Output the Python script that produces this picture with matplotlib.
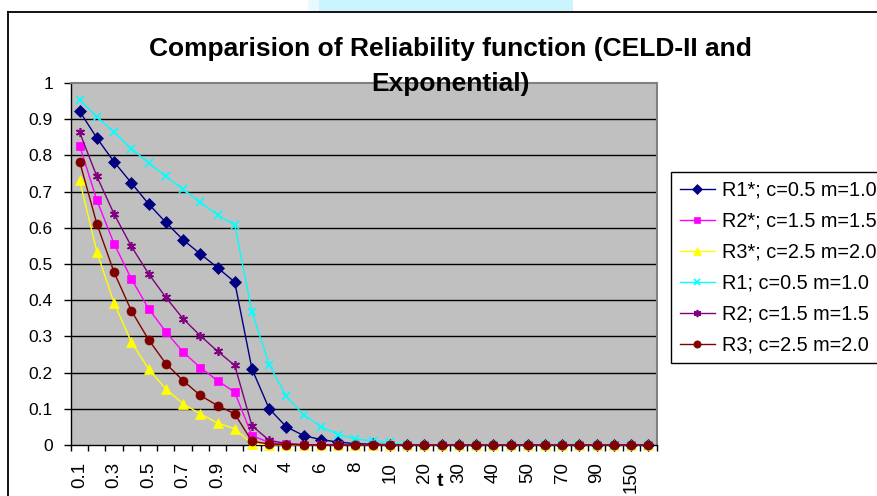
import numpy as np
import matplotlib.pyplot as plt
from matplotlib.lines import Line2D
from matplotlib.patches import Rectangle

# categorias del eje t
t_labels = ["0.1", "0.2", "0.3", "0.4", "0.5", "0.6", "0.7", "0.8", "0.9", "1",
            "2", "3", "4", "5", "6", "7", "8", "9", "10",
            "15", "20", "25", "30", "35", "40", "45", "50", "60", "70", "80", "90",
            "100", "150", "200"]

r1_star = [0.922, 0.848, 0.782, 0.724, 0.666, 0.615, 0.567, 0.528, 0.490, 0.450,
           0.210, 0.100, 0.050, 0.026, 0.015, 0.008, 0.004, 0.002, 0.001,
           0, 0, 0, 0, 0, 0, 0, 0, 0, 0, 0, 0, 0, 0, 0]
r2_star = [0.827, 0.676, 0.556, 0.459, 0.377, 0.313, 0.257, 0.214, 0.178, 0.146,
           0.026, 0.007, 0.002, 0.001, 0, 0, 0, 0, 0,
           0, 0, 0, 0, 0, 0, 0, 0, 0, 0, 0, 0, 0, 0, 0]
r3_star = [0.731, 0.534, 0.392, 0.285, 0.210, 0.155, 0.114, 0.086, 0.061, 0.045,
           0.003, 0.001, 0, 0, 0, 0, 0, 0, 0,
           0, 0, 0, 0, 0, 0, 0, 0, 0, 0, 0, 0, 0, 0, 0]
r1 = [0.954, 0.906, 0.864, 0.819, 0.779, 0.742, 0.707, 0.670, 0.636, 0.608,
      0.367, 0.222, 0.134, 0.083, 0.051, 0.029, 0.017, 0.011, 0.007,
      0.001, 0, 0, 0, 0, 0, 0, 0, 0, 0, 0, 0, 0, 0, 0]
r2 = [0.864, 0.742, 0.638, 0.549, 0.473, 0.408, 0.349, 0.302, 0.259, 0.220,
      0.053, 0.013, 0.004, 0.001, 0, 0, 0, 0, 0,
      0, 0, 0, 0, 0, 0, 0, 0, 0, 0, 0, 0, 0, 0, 0]
r3 = [0.783, 0.611, 0.477, 0.371, 0.291, 0.225, 0.178, 0.137, 0.109, 0.086,
      0.010, 0.003, 0.001, 0, 0, 0, 0, 0, 0,
      0, 0, 0, 0, 0, 0, 0, 0, 0, 0, 0, 0, 0, 0, 0]

series = [
    (r1_star, "R1*; c=0.5 m=1.0", "#000080", "D", 6.2),
    (r2_star, "R2*; c=1.5 m=1.5", "#FF00FF", "s", 6),
    (r3_star, "R3*; c=2.5 m=2.0", "#FFFF00", "^", 7),
    (r1, "R1; c=0.5 m=1.0", "#00FFFF", "x", 5.8),
    (r2, "R2; c=1.5 m=1.5", "#800080", (6, 2, 0), 6.5),
    (r3, "R3; c=2.5 m=2.0", "#800000", "o", 6.5),
]

plt.rcParams["font.family"] = ["Liberation Sans", "DejaVu Sans"]

W, H = 877, 496
fig = plt.figure(figsize=(W / 100, H / 100), dpi=100)

# fondo: borde del grafico y recuadro celeste arriba
fig.add_artist(Rectangle((308 / W, 1 - 11 / H), 11 / W, 11 / H, transform=fig.transFigure,
                         facecolor="#E6FAFF", edgecolor="none"))
fig.add_artist(Rectangle((319 / W, 1 - 11 / H), 254 / W, 11 / H, transform=fig.transFigure,
                         facecolor="#CCF4FF", edgecolor="none"))
fig.add_artist(Line2D([8 / W, 1], [1 - 12 / H, 1 - 12 / H], transform=fig.transFigure,
                      color="black", lw=1.3))
fig.add_artist(Line2D([8 / W, 8 / W], [0, 1 - 12 / H], transform=fig.transFigure,
                      color="black", lw=1.3))

ax = fig.add_axes([71 / W, 1 - 445 / H, 586 / W, 362 / H])
ax.set_facecolor("#C0C0C0")

x = np.arange(len(t_labels))
for vals, lab, col, mk, ms in series:
    mew = 1.2 if mk in ("x",) or isinstance(mk, tuple) else 0.5
    ax.plot(x, vals, color=col, lw=1.0, marker=mk, markersize=ms,
            markerfacecolor=col, markeredgecolor=col, markeredgewidth=mew,
            label=lab, clip_on=False, zorder=3)

for yv in np.arange(0.1, 1.0, 0.1):
    ax.axhline(yv, color="black", lw=1.0, zorder=1)

ax.set_xlim(-0.5, len(t_labels) - 0.5)
ax.set_ylim(0, 1)

ax.set_xticks(x)
ax.set_xticklabels([lab if i % 2 == 0 else "" for i, lab in enumerate(t_labels)],
                   rotation=90, fontsize=13.5)
ax.tick_params(axis="x", which="major", length=0, pad=12)
ax.set_xticks(np.arange(-0.5, len(t_labels)), minor=True)
ax.tick_params(axis="x", which="minor", length=4.5, width=1, direction="out")

yt = np.round(np.arange(0, 1.01, 0.1), 1)
ax.set_yticks(yt)
ax.set_yticklabels(["0" if v == 0 else ("1" if v == 1 else f"{v:.1f}") for v in yt],
                   fontsize=12.5)
ax.tick_params(axis="y", length=5, width=1, pad=8)

for s in ("left", "bottom"):
    ax.spines[s].set_color("black")
    ax.spines[s].set_linewidth(1.0)
for s in ("top", "right"):
    ax.spines[s].set_color("#808080")
    ax.spines[s].set_linewidth(1.5)

fig.text(440 / W, 1 - 482 / H, "t", fontsize=14, fontweight="bold", ha="center", va="center")

# titulo en dos lineas
fig.text(450 / W, 1 - 56 / H, "Comparision of Reliability function (CELD-II and",
         fontsize=19, fontweight="bold", ha="center", va="baseline", zorder=5)
fig.text(450 / W, 1 - 91 / H, "Exponential)",
         fontsize=19, fontweight="bold", ha="center", va="baseline", zorder=5)

leg = fig.legend(loc="upper left", bbox_to_anchor=(671 / W, 1 - 172 / H), fontsize=14.3,
                 frameon=True, fancybox=False, edgecolor="black", framealpha=1,
                 handlelength=1.76, handletextpad=0.35, labelspacing=0.6,
                 borderpad=0.45, markerscale=0.8, borderaxespad=0)
leg.get_frame().set_linewidth(1.0)

fig.savefig("out.png", dpi=100)
